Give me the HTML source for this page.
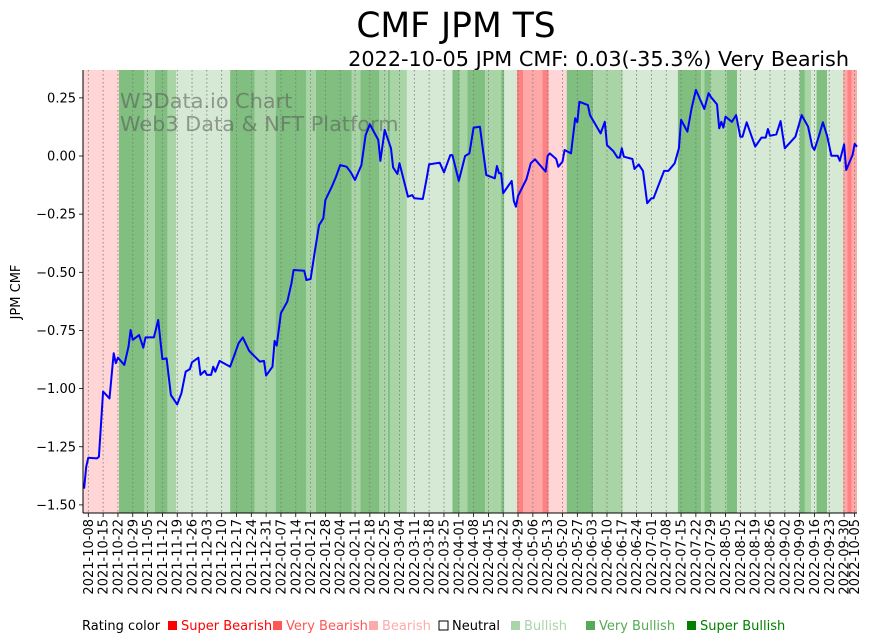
<!DOCTYPE html>
<html><head><meta charset="utf-8"><style>
body{margin:0;background:#fff;}
svg{display:block;font-family:"DejaVu Sans","Liberation Sans",sans-serif;}
</style></head><body>
<svg id="chart" width="875" height="641" viewBox="0 0 875 641" xmlns="http://www.w3.org/2000/svg">
<text x="456" y="37" font-size="34.5" text-anchor="middle" fill="#000">CMF JPM TS</text>
<text x="849" y="66" font-size="20.8" text-anchor="end" fill="#000">2022-10-05 JPM CMF: 0.03(-35.3%) Very Bearish</text>
<g id="bands"></g>
<g id="grid"></g>
<text x="120" y="108" font-size="20.8" fill="#555" fill-opacity="0.55">W3Data.io Chart</text>
<text x="120" y="131" font-size="20.8" fill="#555" fill-opacity="0.55">Web3 Data &amp; NFT Platform</text>
<path id="line" fill="none" stroke="#0000ff" stroke-width="2" stroke-linejoin="round"/>
<g id="axes"></g>
<text transform="translate(20,292) rotate(-90)" font-size="13" text-anchor="middle">JPM CMF</text>
<g id="legend"></g>
</svg>
<script>
const days = [-2,-1,0,4,5,7,10,12,13,14,17,19,20,21,24,26,27,31,33,35,37,39,42,44,46,48,49,52,53,55,56,58,59,60,62,67,69,71,73,76,81,83,84,87,88,89,91,94,96,97,102,103,105,107,109,111,112,115,117,119,122,124,126,129,131,133,137,138,140,143,144,146,147,151,153,154,158,160,161,166,168,171,172,175,178,180,182,185,188,192,193,194,195,196,200,201,202,203,207,209,211,216,217,218,221,222,224,225,228,230,231,232,236,237,242,244,245,248,250,251,252,253,257,258,260,262,264,266,267,270,272,274,277,279,280,283,285,287,291,293,294,297,298,299,300,301,304,306,308,309,311,315,318,320,321,322,325,327,328,329,334,337,340,342,343,345,347,349,351,354,355,357,358,361,362,363.5];
const cmf = [-1.43,-1.336,-1.297,-1.30,-1.293,-1.013,-1.042,-0.848,-0.891,-0.867,-0.898,-0.82,-0.748,-0.79,-0.77,-0.824,-0.78,-0.78,-0.705,-0.873,-0.87,-1.028,-1.068,-1.02,-0.927,-0.916,-0.887,-0.867,-0.941,-0.924,-0.941,-0.941,-0.906,-0.927,-0.881,-0.906,-0.856,-0.805,-0.78,-0.838,-0.884,-0.881,-0.944,-0.906,-0.795,-0.815,-0.676,-0.626,-0.547,-0.49,-0.493,-0.533,-0.529,-0.411,-0.297,-0.268,-0.189,-0.132,-0.089,-0.039,-0.046,-0.07,-0.103,-0.039,0.09,0.136,0.069,-0.021,0.112,0.033,-0.049,-0.077,-0.031,-0.175,-0.168,-0.182,-0.185,-0.089,-0.036,-0.029,-0.07,0.004,0.004,-0.107,0,0.011,0.122,0.126,-0.082,-0.096,-0.043,-0.074,-0.074,-0.16,-0.107,-0.193,-0.218,-0.171,-0.099,-0.031,-0.014,-0.067,0.001,0.011,-0.013,-0.046,-0.024,0.026,0.011,0.162,0.145,0.233,0.219,0.176,0.097,0.147,0.047,0.021,-0.007,-0.007,0.033,-0.003,-0.013,-0.056,-0.036,-0.064,-0.203,-0.182,-0.182,-0.11,-0.064,-0.064,-0.031,0.033,0.155,0.105,0.205,0.284,0.202,0.27,0.255,0.222,0.119,0.147,0.122,0.169,0.147,0.176,0.083,0.083,0.145,0.04,0.079,0.079,0.116,0.087,0.093,0.15,0.09,0.033,0.083,0.176,0.126,0.04,0.026,0.083,0.145,0.087,0.001,0.001,-0.021,0.05,-0.06,0.004,0.052,0.04];
const bandStarts = [-2.5,14.5,26.5,31.5,37.5,41.5,67,78.5,88.5,103,107.5,124.5,128.5,137.5,141.5,142.5,150.5,172,175.5,179,187.5,195,196.5,202.5,205.5,214.5,217.5,226,238.5,252.5,278.5,289.5,291,294,301.5,306.5,336,338.5,341.5,344,349,356.5,358.5,360.5];
const bandRatings = ["B","SBu","VBu","SBu","VBu","Bu","SBu","VBu","SBu","VBu","SBu","VBu","SBu","VBu","SBu","VBu","Bu","SBu","VBu","SBu","VBu","SBu","Bu","SB","VB","SB","B","SBu","VBu","Bu","SBu","VBu","SBu","VBu","SBu","Bu","SBu","VBu","Bu","SBu","Bu","VB","SB","VB"];
const domainEnd = 363.5;
const yTicks = [0.25,0,-0.25,-0.5,-0.75,-1,-1.25,-1.5];
const yTickLabels = ["0.25","0.00","\u22120.25","\u22120.50","\u22120.75","\u22121.00","\u22121.25","\u22121.50"];
const startDate = Date.UTC(2021,9,8);
const tickDays = [];
for (let d = 0; d <= 357; d += 7) tickDays.push(d);
tickDays.push(362);
const legendNames = ["Super Bearish","Very Bearish","Bearish","Neutral","Bullish","Very Bullish","Super Bullish"];
const legendColors = ["#ff0000","#ff5555","#ffaaaa","none","#aad4aa","#55aa55","#008000"];

const L=83, R=857, T=70, B=513;
const X = d => 88.3 + d*2.117;
const Y = v => 156 - v*232.6;
const bandColor = {SB:"#ff8080",VB:"#ffa8a8",B:"#ffd5d5",N:"#ffffff",Bu:"#d5e9d4",VBu:"#a9d4a6",SBu:"#80bf80"};
const NS="http://www.w3.org/2000/svg";
function mk(tag, parent, attrs){const e=document.createElementNS(NS,tag);for(const k in attrs)e.setAttribute(k,attrs[k]);parent.appendChild(e);return e;}

const bands=document.getElementById('bands');
bandStarts.forEach((s,i)=>{
  const e = i+1<bandStarts.length ? bandStarts[i+1] : domainEnd;
  const x0=Math.max(L,X(s)), x1=Math.min(R,X(e));
  const r=mk('rect',bands,{x:x0,y:T,width:Math.max(0,x1-x0),height:B-T,fill:bandColor[bandRatings[i]]});
  
  
});

const grid=document.getElementById('grid');
const axes=document.getElementById('axes');
function fmt(d){const t=new Date(startDate+d*86400000);return t.toISOString().slice(0,10);}
tickDays.forEach(d=>{
  const x=X(d);
  const g=mk('line',grid,{x1:x,x2:x,y1:T,y2:B,stroke:'#777',"stroke-width":0.8,"stroke-dasharray":"1.5,2.5"});
  
  
  mk('line',axes,{x1:x,x2:x,y1:B,y2:B+4,stroke:'#000',"stroke-width":0.8});
  const t=mk('text',axes,{transform:`translate(${x+4.5},${B+6}) rotate(-90)`,"font-size":13,"text-anchor":"end"});
  t.textContent=fmt(d);
  
  
});
yTicks.forEach((v,i)=>{
  const y=Y(v);
  mk('line',axes,{x1:L-4,x2:L,y1:y,y2:y,stroke:'#000',"stroke-width":0.8});
  const t=mk('text',axes,{x:L-7,y:y+4.5,"font-size":13,"text-anchor":"end"});
  t.textContent=yTickLabels[i];
  
  
});
mk('line',axes,{x1:L,x2:L,y1:T,y2:B,stroke:'#000',"stroke-width":1});
mk('line',axes,{x1:L,x2:R,y1:B,y2:B,stroke:'#000',"stroke-width":1});

let d='';
days.forEach((dd,i)=>{const x=Math.min(R,Math.max(L,X(dd)));d+=(i?'L':'M')+x.toFixed(1)+','+Y(cmf[i]).toFixed(1);});
document.getElementById('line').setAttribute('d',d);

const legend=document.getElementById('legend');
const lt=mk('text',legend,{x:82,y:630,"font-size":13});
lt.textContent='Rating color';


const legX=[167,272,368,438,510,585,686];
legendNames.forEach((n,i)=>{
  const c=legendColors[i];
  const sq=mk('rect',legend,{x:legX[i]+1,y:621,width:9,height:9,fill:c==='none'?'#fff':c,stroke:c==='none'?'#000':'none',"stroke-width":1});
  
  
  const t=mk('text',legend,{x:legX[i]+14,y:630,"font-size":13,fill:c==='none'?'#000':c});
  t.textContent=n;
  
  
});
</script>
</body></html>
